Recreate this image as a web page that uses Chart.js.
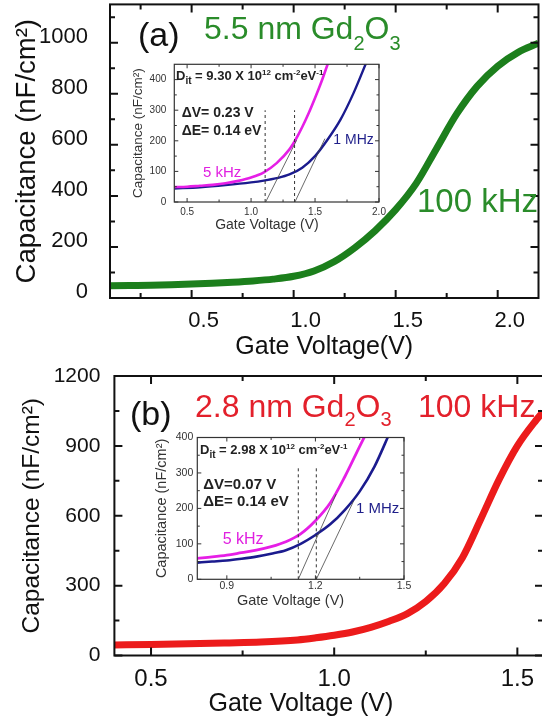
<!DOCTYPE html>
<html><head><meta charset="utf-8">
<script src="https://cdn.jsdelivr.net/npm/chart.js@4.4.1/dist/chart.umd.min.js"></script>
<style>
html,body{margin:0;padding:0;background:#fff;overflow:hidden;width:542px;height:722px}
#wrap{position:relative;width:542px;height:722px;overflow:hidden;background:#fff}
canvas{position:absolute}
</style></head><body>
<div id="wrap">
<canvas id="mainA" width="542" height="361" style="left:0;top:0"></canvas>
<canvas id="mainB" width="546" height="361" style="left:0;top:361px"></canvas>
<canvas id="insetA" width="280" height="185" style="left:120px;top:55px"></canvas>
<canvas id="insetB" width="290" height="200" style="left:140px;top:420px"></canvas>
</div>
<script>
// ---------- DATA ----------
// Panel (a): 5.5 nm Gd2O3, 100 kHz
const voltA = [0.1,0.2,0.3,0.4,0.5,0.6,0.7,0.8,0.9,1.0,1.1,1.2,1.3,1.4,1.5,1.6,1.7,1.8,1.9,2.0,2.1,2.2];
const capA100k = [48,49,50,52,55,58,62,67,74,85,106,143,197,264,346,448,585,722,830,908,962,998];
// Panel (b): 2.8 nm Gd2O3, 100 kHz
const voltB = [0.4,0.5,0.6,0.7,0.8,0.9,0.95,1.0,1.05,1.1,1.15,1.2,1.25,1.3,1.35,1.4,1.45,1.5,1.55,1.57];
const capB100k = [45,47,50,54,58,67,76,87,101,121,147,180,232,308,420,585,755,900,1008,1045];
// Inset (a)
const insAVolt5k = [0.4,0.5,0.6,0.7,0.8,0.9,1.0,1.1,1.2,1.3,1.35,1.4,1.45,1.5,1.55,1.6,1.62];
const insACap5k  = [49,50,53,56,61,69,80,97,127,172,205,245,290,340,393,452,475];
const insAVolt1M = [0.4,0.6,0.8,1.0,1.1,1.2,1.3,1.4,1.5,1.6,1.7,1.8,1.9];
const insACap1M  = [44,48,55,64,70,78,90,112,150,205,270,355,455];
const insADashV = [1.11, 1.34];
const insADashTop = 300;
const insATan1V = [1.114, 1.356], insATan1C = [0, 202];
const insATan2V = [1.343, 1.577], insATan2C = [0, 207];
// Inset (b)
const insBVolt5k = [0.8,0.85,0.9,0.95,1.0,1.05,1.1,1.15,1.2,1.25,1.3,1.35,1.38];
const insBCap5k  = [59,63,68,75,82,92,106,128,165,215,290,375,425];
const insBVolt1M = [0.8,0.85,0.9,0.95,1.0,1.05,1.1,1.15,1.2,1.25,1.3,1.35,1.4,1.45];
const insBCap1M  = [47,50,53,58,64,72,82,100,125,155,196,248,318,410];
const insBDashV = [1.142, 1.203];
const insBDashTop = 320;
const insBTan1V = [1.142, 1.27], insBTan1C = [0, 240];
const insBTan2V = [1.203, 1.33], insBTan2C = [0, 222];
// Ticks
const mainAXTicks = [0.5,1.0,1.5,2.0], mainAXLabels = ['0.5','1.0','1.5','2.0'], mainAXMinor = [0.25,0.75,1.25,1.75];
const mainAYTicks = [0,200,400,600,800,1000], mainAYLabels = ['0','200','400','600','800','1000'], mainAYMinor = [100,300,500,700,900,1100];
const mainBXTicks = [0.5,1.0,1.5], mainBXLabels = ['0.5','1.0','1.5'], mainBXMinor = [0.75,1.25];
const mainBYTicks = [0,300,600,900,1200], mainBYLabels = ['0','300','600','900','1200'], mainBYMinor = [150,450,750,1050];
const insAXTicks = [0.5,1.0,1.5,2.0], insAXLabels = ['0.5','1.0','1.5','2.0'], insAXMinor = [0.75,1.25,1.75];
const insAYTicks = [0,100,200,300,400], insAYLabels = ['0','100','200','300','400'], insAYMinor = [50,150,250,350];
const insBXTicks = [0.9,1.2,1.5], insBXLabels = ['0.9','1.2','1.5'], insBXMinor = [1.05,1.35];
const insBYTicks = [0,100,200,300,400], insBYLabels = ['0','100','200','300','400'], insBYMinor = [50,150,250,350];

// ---------- HELPERS ----------
const FF = "'Liberation Sans', Arial, Helvetica, sans-serif";
const pts = (xs, ys) => xs.map((v, i) => ({x: v, y: ys[i]}));
const curve = (xs, ys, color, w) => ({data: pts(xs, ys), borderColor: color, borderWidth: w, pointRadius: 0, fill: false, cubicInterpolationMode: 'monotone'});
const straight = (xs, ys, color, w, dash) => ({data: pts(xs, ys), borderColor: color, borderWidth: w, pointRadius: 0, fill: false, tension: 0, borderDash: dash || []});

function drawRuns(ctx, item, ox, oy) {
  let x = item.x - ox;
  const y = item.y - oy;
  ctx.textBaseline = 'alphabetic'; ctx.textAlign = 'left';
  item.runs.forEach(r => {
    ctx.font = r.font; ctx.fillStyle = r.color || item.color;
    ctx.fillText(r.t, x, y + (r.dy || 0));
    x += ctx.measureText(r.t).width;
  });
}

function buildChart(id, cfg) {
  const canvas = document.getElementById(id);
  const W = canvas.width, H = canvas.height;
  const a = cfg.area; // canvas coords of plot area
  const deco = {
    id: 'deco',
    afterDraw(chart) {
      const {ctx, chartArea: ca, scales: {x, y}} = chart;
      ctx.save();
      ctx.strokeStyle = cfg.frameColor; ctx.lineWidth = cfg.frameWidth;
      ctx.strokeRect(ca.left, ca.top, ca.right - ca.left, ca.bottom - ca.top);
      ctx.lineWidth = cfg.tickWidth;
      ctx.beginPath();
      const xt = (vals, len) => vals.forEach(v => {
        const px = x.getPixelForValue(v);
        ctx.moveTo(px, ca.bottom); ctx.lineTo(px, ca.bottom - len);
        ctx.moveTo(px, ca.top); ctx.lineTo(px, ca.top + len);
      });
      const yt = (vals, len) => vals.forEach(v => {
        const py = y.getPixelForValue(v);
        ctx.moveTo(ca.left, py); ctx.lineTo(ca.left + len, py);
        ctx.moveTo(ca.right, py); ctx.lineTo(ca.right - len, py);
      });
      xt(cfg.xTicks, cfg.majorLen); xt(cfg.xMinor, cfg.minorLen);
      yt(cfg.yTicks, cfg.majorLen); yt(cfg.yMinor, cfg.minorLen);
      ctx.stroke();
      (cfg.texts || []).forEach(t => drawRuns(ctx, t, cfg.ox, cfg.oy));
      ctx.restore();
    }
  };
  return new Chart(canvas, {
    type: 'line',
    data: {datasets: cfg.datasets},
    options: {
      responsive: false, animation: false, devicePixelRatio: 1,
      layout: {padding: {top: a.top, right: W - a.right, left: 0, bottom: 0}},
      plugins: {legend: {display: false}, tooltip: {enabled: false}},
      scales: {
        x: {
          type: 'linear', min: cfg.xMin, max: cfg.xMax,
          grid: {display: false, drawTicks: false}, border: {display: false},
          afterBuildTicks: s => { s.ticks = cfg.xTicks.map(v => ({value: v})); },
          afterFit: s => { s.height = H - a.bottom; s.paddingLeft = 0; s.paddingRight = 0; s.paddingTop = 0; s.paddingBottom = 0; },
          ticks: {autoSkip: false, maxRotation: 0, callback: (v, i) => cfg.xLabels[i],
                  font: {family: FF, size: cfg.xTickSize}, color: cfg.tickColor,
                  padding: cfg.xTickPad, labelOffset: cfg.xLabelOffset || 0},
          title: {display: true, text: cfg.xTitle, color: cfg.titleColor,
                  font: {family: FF, size: cfg.xTitleSize, lineHeight: cfg.xTitleLH},
                  padding: {top: 0, bottom: cfg.xTitlePad}}
        },
        y: {
          type: 'linear', min: cfg.yMin, max: cfg.yMax,
          grid: {display: false, drawTicks: false}, border: {display: false},
          afterBuildTicks: s => { s.ticks = cfg.yTicks.map(v => ({value: v})); },
          afterFit: s => { s.width = a.left; s.paddingTop = 0; s.paddingBottom = 0; s.paddingLeft = 0; s.paddingRight = 0; },
          ticks: {autoSkip: false, callback: (v, i) => cfg.yLabels[i],
                  font: {family: FF, size: cfg.yTickSize}, color: cfg.tickColor,
                  padding: cfg.yTickPad, labelOffset: cfg.yLabelOffset || 0},
          title: {display: true, text: cfg.yTitle, color: cfg.titleColor,
                  font: {family: FF, size: cfg.yTitleSize, lineHeight: 1.2},
                  padding: {top: cfg.yTitlePad, bottom: 0}}
        }
      }
    },
    plugins: [deco]
  });
}

const GREEN_LINE = '#1c7f1c', GREEN_TXT = '#2a8c2a';
const RED_LINE = '#ec1b1b', RED_TXT = '#e3202b';
const MAG = '#e61ee6', NAVY = '#1b1b8e', MAG_TXT = '#e020e0', NAVY_TXT = '#1f1f8a';
const B = (s) => `bold ${s}px ${FF}`;
const N = (s) => `${s}px ${FF}`;

// ---------- MAIN (a) ----------
buildChart('mainA', {
  ox: 0, oy: 0,
  area: {left: 110, right: 538.5, top: 4.4, bottom: 298},
  xMin: 0.1, xMax: 2.2, yMin: 0, yMax: 1150,
  xTicks: mainAXTicks, xLabels: mainAXLabels, xMinor: mainAXMinor,
  yTicks: mainAYTicks, yLabels: mainAYLabels, yMinor: mainAYMinor,
  xTickSize: 22, yTickSize: 22, tickColor: '#111', xTickPad: 10, yTickPad: 22,
  xLabelOffset: 12, yLabelOffset: -6,
  xTitle: 'Gate Voltage(V)', xTitleSize: 25, xTitleLH: 1.0, xTitlePad: 1,
  yTitle: 'Capacitance (nF/cm²)', yTitleSize: 27.5, yTitlePad: 11, titleColor: '#111',
  frameColor: '#111', frameWidth: 2, tickWidth: 2, majorLen: 8, minorLen: 5,
  datasets: [curve(voltA, capA100k, GREEN_LINE, 7)],
  texts: [
    {x: 138, y: 46, color: '#111', runs: [{t: '(a)', font: N(34)}]},
    {x: 204, y: 38.5, color: GREEN_TXT, runs: [
      {t: '5.5 nm Gd', font: N(32)}, {t: '2', font: N(20), dy: 11},
      {t: 'O', font: N(32)}, {t: '3', font: N(20), dy: 11}]},
    {x: 417, y: 212, color: GREEN_TXT, runs: [{t: '100 kHz', font: N(33)}]}
  ]
});

// ---------- MAIN (b) ----------
buildChart('mainB', {
  ox: 0, oy: 361,
  area: {left: 114.4, right: 543, top: 15, bottom: 294.5},
  xMin: 0.4, xMax: 1.57, yMin: 0, yMax: 1200,
  xTicks: mainBXTicks, xLabels: mainBXLabels, xMinor: mainBXMinor,
  yTicks: mainBYTicks, yLabels: mainBYLabels, yMinor: mainBYMinor,
  xTickSize: 24, yTickSize: 21, tickColor: '#111', xTickPad: 9, yTickPad: 14,
  xTitle: 'Gate Voltage (V)        ', xTitleSize: 25, xTitleLH: 1.0, xTitlePad: 5.5,
  yTitle: 'Capacitance (nF/cm²)', yTitleSize: 24.5, yTitlePad: 18, titleColor: '#111',
  frameColor: '#111', frameWidth: 2, tickWidth: 2, majorLen: 8, minorLen: 5,
  datasets: [curve(voltB, capB100k, RED_LINE, 7)],
  texts: [
    {x: 130, y: 425, color: '#111', runs: [{t: '(b)', font: N(34)}]},
    {x: 195, y: 416.5, color: RED_TXT, runs: [
      {t: '2.8 nm Gd', font: N(32)}, {t: '2', font: N(20), dy: 9},
      {t: 'O', font: N(32)}, {t: '3', font: N(20), dy: 9}]},
    {x: 418, y: 416.5, color: RED_TXT, runs: [{t: '100 kHz', font: N(32)}]}
  ]
});

// ---------- INSET (a) ----------
buildChart('insetA', {
  ox: 120, oy: 55,
  area: {left: 54.3, right: 259, top: 9.3, bottom: 147},
  xMin: 0.4, xMax: 2.0, yMin: 0, yMax: 450,
  xTicks: insAXTicks, xLabels: insAXLabels, xMinor: insAXMinor,
  yTicks: insAYTicks, yLabels: insAYLabels, yMinor: insAYMinor,
  xTickSize: 10, yTickSize: 10, tickColor: '#333', xTickPad: 4, yTickPad: 8,
  xTitle: 'Gate Voltage (V)     ', xTitleSize: 14, xTitleLH: 1.2, xTitlePad: 6.6,
  yTitle: 'Capacitance (nF/cm²)', yTitleSize: 13.5, yTitlePad: 10, titleColor: '#333',
  frameColor: '#333', frameWidth: 1.2, tickWidth: 1, majorLen: 4, minorLen: 2.5,
  datasets: [
    straight([insADashV[0], insADashV[0]], [0, insADashTop], '#333', 1, [3, 3]),
    straight([insADashV[1], insADashV[1]], [0, insADashTop], '#333', 1, [3, 3]),
    straight(insATan1V, insATan1C, '#444', 0.8),
    straight(insATan2V, insATan2C, '#444', 0.8),
    curve(insAVolt5k, insACap5k, MAG, 2.6),
    curve(insAVolt1M, insACap1M, NAVY, 2.4)
  ],
  texts: [
    {x: 176, y: 80, color: '#222', runs: [
      {t: 'D', font: B(13)}, {t: 'it', font: B(10), dy: 4}, {t: ' = 9.30 X 10', font: B(13)},
      {t: '12', font: B(8), dy: -5}, {t: ' cm', font: B(13)}, {t: '-2', font: B(8), dy: -5},
      {t: 'eV', font: B(13)}, {t: '-1', font: B(8), dy: -5}]},
    {x: 181.7, y: 116.7, color: '#222', runs: [{t: 'ΔV= 0.23 V', font: B(14)}]},
    {x: 181.7, y: 135, color: '#222', runs: [{t: 'ΔE= 0.14 eV', font: B(14)}]},
    {x: 203, y: 177, color: MAG_TXT, runs: [{t: '5 kHz', font: N(15)}]},
    {x: 333.3, y: 144.3, color: NAVY_TXT, runs: [{t: '1 MHz', font: N(14)}]}
  ]
});

// ---------- INSET (b) ----------
buildChart('insetB', {
  ox: 140, oy: 420,
  area: {left: 57.3, right: 264, top: 17.5, bottom: 159.3},
  xMin: 0.8, xMax: 1.5, yMin: 0, yMax: 400,
  xTicks: insBXTicks, xLabels: insBXLabels, xMinor: insBXMinor,
  yTicks: insBYTicks, yLabels: insBYLabels, yMinor: insBYMinor,
  xTickSize: 10.5, yTickSize: 10.5, tickColor: '#333', xTickPad: 1, yTickPad: 4,
  xTitle: 'Gate Voltage (V)     ', xTitleSize: 14.5, xTitleLH: 1.2, xTitlePad: 9.9,
  yTitle: 'Capacitance (nF/cm²)', yTitleSize: 14.5, yTitlePad: 13, titleColor: '#333',
  frameColor: '#333', frameWidth: 1.2, tickWidth: 1, majorLen: 4, minorLen: 2.5,
  datasets: [
    straight([insBDashV[0], insBDashV[0]], [0, insBDashTop], '#333', 1, [3, 3]),
    straight([insBDashV[1], insBDashV[1]], [0, insBDashTop], '#333', 1, [3, 3]),
    straight(insBTan1V, insBTan1C, '#444', 0.8),
    straight(insBTan2V, insBTan2C, '#444', 0.8),
    curve(insBVolt5k, insBCap5k, MAG, 2.8),
    curve(insBVolt1M, insBCap1M, NAVY, 2.6)
  ],
  texts: [
    {x: 200, y: 453.5, color: '#222', runs: [
      {t: 'D', font: B(13)}, {t: 'it', font: B(10), dy: 4}, {t: ' = 2.98 X 10', font: B(13)},
      {t: '12', font: B(8), dy: -5}, {t: ' cm', font: B(13)}, {t: '-2', font: B(8), dy: -5},
      {t: 'eV', font: B(13)}, {t: '-1', font: B(8), dy: -5}]},
    {x: 203.3, y: 488.7, color: '#222', runs: [{t: 'ΔV=0.07 V', font: B(15)}]},
    {x: 203.3, y: 506.4, color: '#222', runs: [{t: 'ΔE= 0.14 eV', font: B(15)}]},
    {x: 222.7, y: 544, color: MAG_TXT, runs: [{t: '5 kHz', font: N(16)}]},
    {x: 356, y: 512.7, color: NAVY_TXT, runs: [{t: '1 MHz', font: N(15)}]}
  ]
});
</script>
</body></html>
